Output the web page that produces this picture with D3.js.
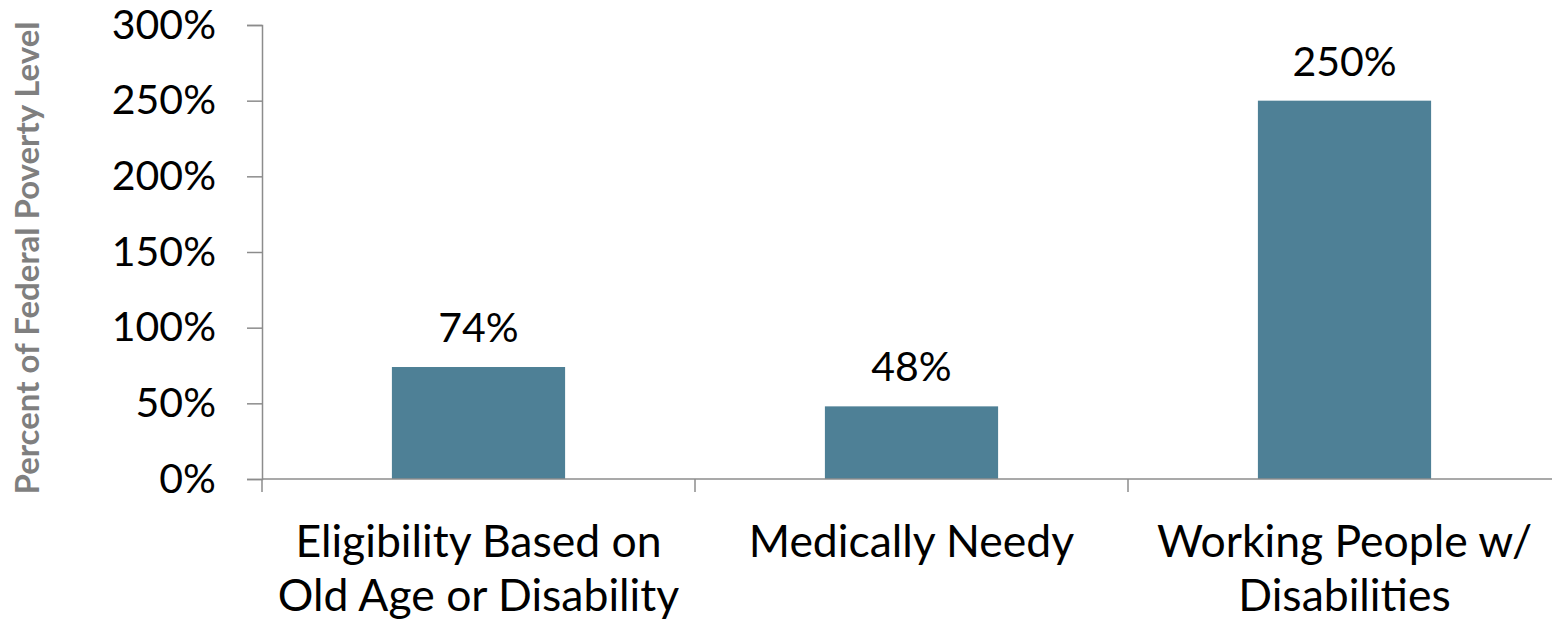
<!DOCTYPE html>
<html>
<head>
<meta charset="utf-8">
<script src="https://cdn.jsdelivr.net/npm/d3@7"></script>
<style>
  html, body { margin: 0; padding: 0; background: #fff; }
  svg { display: block; }
  text { font-family: Lato, "Open Sans", sans-serif; }
</style>
</head>
<body>
<svg id="chart" width="1552" height="621"></svg>
<script>
const categories = ["Eligibility Based on\nOld Age or Disability", "Medically Needy", "Working People w/\nDisabilities"];
const values = [0.74, 0.48, 2.50];
const valueLabels = ["74%", "48%", "250%"];
const yTicks = [0, 0.5, 1, 1.5, 2, 2.5, 3];
const yTickLabels = ["0%", "50%", "100%", "150%", "200%", "250%", "300%"];
const yTitle = "Percent of Federal Poverty Level";

(function () {
const svg = d3.select("#chart");
const mLeft = 262, mRight = 1561, mTop = 25, mBottom = 479;
const axisColor = "#8c8c8c";
const barColor = "#4e8096";
const fontSize = 41;
const catFontSize = 44.5;

const x = d3.scaleBand().domain(categories).range([mLeft, mRight]).paddingInner(0.6).paddingOuter(0.3);
const y = d3.scaleLinear().domain([0, 3]).range([mBottom, mTop]);

// y axis
const yAxis = d3.axisLeft(y).tickValues(yTicks).tickSize(15).tickPadding(31)
  .tickFormat((d, i) => yTickLabels[i]);
const gy = svg.append("g").attr("transform", `translate(${mLeft},0)`).call(yAxis);
gy.select(".domain").attr("stroke", axisColor).attr("stroke-width", 1.5);
gy.selectAll(".tick line").attr("stroke", axisColor).attr("stroke-width", 1.5);
gy.selectAll(".tick text").attr("font-size", fontSize).attr("fill", "#000")
  .style("font-family", "Lato, 'Open Sans', sans-serif");

// bars
svg.append("g").selectAll("rect").data(values).join("rect")
  .attr("x", (d, i) => x(categories[i]))
  .attr("width", x.bandwidth())
  .attr("y", d => y(d))
  .attr("height", d => y(0) - y(d))
  .attr("fill", barColor);

// x axis line
svg.append("line").attr("x1", mLeft).attr("x2", mRight).attr("y1", y(0)).attr("y2", y(0))
  .attr("stroke", axisColor).attr("stroke-width", 1.5);
// category boundary ticks
const bounds = d3.range(categories.length + 1).map(i => mLeft + i * x.step());
svg.append("g").selectAll("line").data(bounds).join("line")
  .attr("x1", d => d).attr("x2", d => d)
  .attr("y1", y(0)).attr("y2", y(0) + 13)
  .attr("stroke", axisColor).attr("stroke-width", 1.5);

// value labels
svg.append("g").selectAll("text").data(values).join("text")
  .attr("x", (d, i) => x(categories[i]) + x.bandwidth() / 2)
  .attr("y", d => y(d) - 25)
  .attr("text-anchor", "middle")
  .attr("font-size", fontSize)
  .attr("fill", "#000")
  .text((d, i) => valueLabels[i]);

// category labels
const catG = svg.append("g").selectAll("text").data(categories).join("text")
  .attr("x", d => x(d) + x.bandwidth() / 2)
  .attr("y", 557)
  .attr("text-anchor", "middle")
  .attr("font-size", catFontSize)
  .attr("fill", "#000");
catG.selectAll("tspan").data(d => d.split("\n")).join("tspan")
  .attr("x", function() { return d3.select(this.parentNode).attr("x"); })
  .attr("dy", (d, i) => i === 0 ? 0 : 54)
  .text(d => d);

// y title
svg.append("text")
  .attr("transform", `translate(39, 258) rotate(-90)`)
  .attr("text-anchor", "middle")
  .attr("font-size", 33)
  .attr("font-weight", "bold")
  .attr("fill", "#7f7f7f")
  .text(yTitle);
})();
</script>
</body>
</html>
